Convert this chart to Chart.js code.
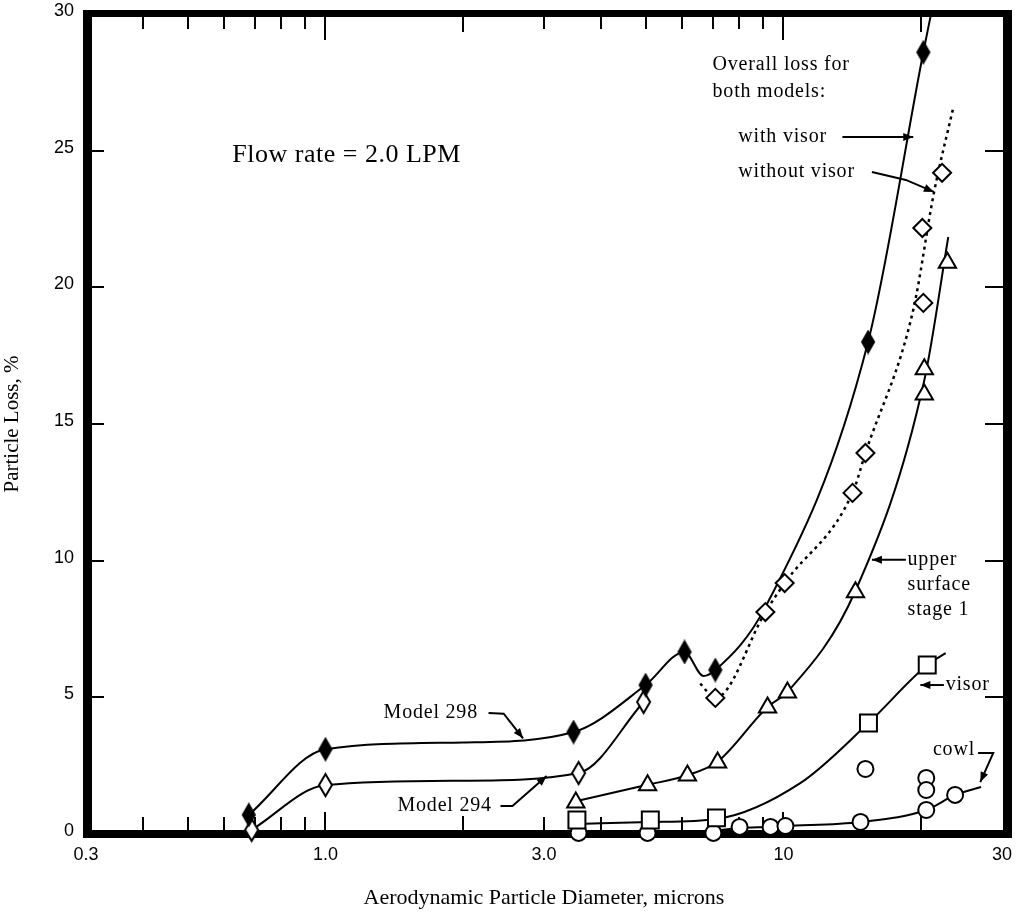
<!DOCTYPE html>
<html>
<head>
<meta charset="utf-8">
<title>Particle Loss vs Aerodynamic Particle Diameter</title>
<script src="https://cdn.jsdelivr.net/npm/chart.js@4.4.1/dist/chart.umd.min.js"></script>
<style>
    html, body { margin: 0; padding: 0; background: #fff; }
    #chart { display: block; }
</style>
</head>
<body>
<canvas id="chart" width="1022" height="914"></canvas>
<script>
// Values (x = particle diameter in microns, y = loss in %)

// Axis ticks
const xTickValues = [0.3, 1, 3, 10, 30];
const xTickLabels = ["0.3", "1.0", "3.0", "10", "30"];
const xMinorTicks = [0.4, 0.5, 0.6, 0.7, 0.8, 0.9, 3, 4, 5, 6, 7, 8, 9];
const xMidTicks = [2, 20];
const xMajorTicks = [1, 10];
const yTickMarks = [5, 10, 15, 20, 25];

// Model 298 / overall loss with visor (filled diamonds)
const withVisorX = [0.68, 1.0, 3.48, 5.0, 6.08, 7.1, 15.3, 20.2];
const withVisorY = [0.7, 3.1, 3.73, 5.45, 6.66, 6.0, 18.0, 28.6];
const withVisorFitX = [0.68, 1.0, 2.0, 3.48, 5.0, 6.08, 6.69, 7.1, 9.13, 15.3, 20.2, 21.0];
const withVisorFitY = [0.7, 3.1, 3.35, 3.73, 5.45, 6.66, 5.78, 6.0, 8.3, 18.0, 28.6, 30];

// Model 294 (open diamonds, lower curve on the left)
const model294X = [0.69, 1.0, 3.57, 4.95];
const model294Y = [0.15, 1.79, 2.23, 4.83];
const model294FitX = [0.69, 1.0, 2.0, 3.57, 4.95];
const model294FitY = [0.15, 1.79, 1.95, 2.23, 4.83];

// Overall loss without visor (open diamonds, dotted curve)
const withoutVisorX = [7.1, 9.13, 10.06, 14.15, 15.1, 20.2, 20.1, 22.2];
const withoutVisorY = [4.98, 8.12, 9.18, 12.48, 13.94, 19.43, 22.17, 24.19];
const withoutVisorFitX = [6.58, 7.1, 9.13, 10.06, 14.15, 15.1, 19.2, 21.3, 23.5];
const withoutVisorFitY = [5.5, 4.98, 8.12, 9.18, 12.48, 13.94, 19.17, 23.45, 26.6];

// Upper surface, stage 1 (triangles)
const stage1X = [3.52, 5.05, 6.17, 7.18, 9.23, 10.2, 14.36, 20.3, 20.3, 22.8];
const stage1Y = [1.15, 1.78, 2.14, 2.62, 4.63, 5.18, 8.84, 16.08, 17.0, 20.9];
const stage1FitX = [3.52, 5.05, 6.17, 7.18, 9.23, 10.2, 14.36, 20.3, 22.9];
const stage1FitY = [1.2, 1.8, 2.15, 2.65, 4.65, 5.2, 8.9, 16.6, 21.84];

// Visor (squares)
const visorX = [3.54, 5.12, 7.14, 15.33, 20.6];
const visorY = [0.51, 0.51, 0.59, 4.06, 6.18];
const visorFitX = [3.54, 5.12, 7.14, 10.9, 15.33, 20.6, 22.6];
const visorFitY = [0.37, 0.44, 0.55, 1.87, 4.06, 6.18, 6.62];

// Cowl (circles)
const cowlX = [3.57, 5.05, 7.03, 8.02, 9.37, 10.1, 14.73, 20.5, 23.7];
const cowlY = [0.04, 0.04, 0.04, 0.26, 0.26, 0.29, 0.44, 0.88, 1.43];
const cowlOffX = [15.1, 20.5, 20.5];
const cowlOffY = [2.38, 2.05, 1.61];
const cowlFitX = [3.57, 5.05, 7.03, 8.02, 9.37, 10.1, 14.73, 20.5, 23.7, 27.0];
const cowlFitY = [0.05, 0.08, 0.12, 0.22, 0.26, 0.29, 0.44, 0.88, 1.43, 1.72];

// Text notes and their arrows, placed in data units
const notes = [
    { text: "Flow rate = 2.0 LPM", x: 0.626, y: 24.84, size: 26 },
    { text: "Overall loss for", x: 7.0, y: 28.14 },
    { text: "both models:", x: 7.0, y: 27.15 },
    { text: "with visor", x: 7.97, y: 25.5 },
    { text: "without visor", x: 7.97, y: 24.22 },
    { text: "upper", x: 18.66, y: 10.03 },
    { text: "surface", x: 18.66, y: 9.11 },
    { text: "stage 1", x: 18.66, y: 8.2 },
    { text: "visor", x: 22.6, y: 5.45 },
    { text: "cowl", x: 21.2, y: 3.07 },
    { text: "Model 298", x: 1.339, y: 4.43 },
    { text: "Model 294", x: 1.436, y: 1.02 }
];
const arrows = [
    [[13.45, 25.5], [19.2, 25.5]],
    [[15.6, 24.22], [18.5, 23.93], [21.3, 23.49]],
    [[18.5, 10.03], [15.6, 10.03]],
    [[22.4, 5.45], [19.9, 5.45]],
    [[26.6, 2.96], [28.7, 2.96], [26.9, 1.9]],
    [[2.27, 4.43], [2.45, 4.4], [2.7, 3.5]],
    [[2.41, 1.02], [2.56, 1.02], [3.04, 2.12]]
];

const pts = (xs, ys) => xs.map((x, i) => ({ x: x, y: ys[i] }));

// Narrow diamond markers as small canvases
function makeDiamond(w, h, fill) {
    const c = document.createElement("canvas");
    c.width = w + 4;
    c.height = h + 4;
    const g = c.getContext("2d");
    g.beginPath();
    g.moveTo(c.width / 2, 2);
    g.lineTo(c.width - 2, c.height / 2);
    g.lineTo(c.width / 2, c.height - 2);
    g.lineTo(2, c.height / 2);
    g.closePath();
    g.fillStyle = fill;
    g.fill();
    g.lineWidth = 2;
    g.strokeStyle = "#000";
    g.stroke();
    return c;
}
const filledDiamond = makeDiamond(12, 21, "#000");
const openDiamond = makeDiamond(13, 22, "#fff");

function fitLine(xs, ys, dashed) {
    return {
        data: pts(xs, ys),
        showLine: true,
        borderColor: "#000",
        borderWidth: dashed ? 2.5 : 2,
        borderDash: dashed ? [3, 4] : [],
        pointRadius: 0,
        cubicInterpolationMode: "monotone",
        fill: false,
        order: 2
    };
}

function markers(xs, ys, style, radius, fill) {
    return {
        data: pts(xs, ys),
        showLine: false,
        pointStyle: style,
        pointRadius: radius,
        pointBackgroundColor: fill,
        pointBorderColor: "#000",
        pointBorderWidth: 2,
        clip: false,
        order: 1
    };
}

// Frame and inward tick marks, drawn before the data
const framePlugin = {
    id: "frame",
    beforeDatasetsDraw(chart) {
        const { ctx, chartArea: a, scales } = chart;
        const L = a.left, R = a.right, T = a.top, B = a.bottom;
        ctx.save();
        ctx.fillStyle = "#000";
        ctx.fillRect(L - 3, T - 4, R + 10 - (L - 3), 7);
        ctx.fillRect(L - 3, B - 4, R + 10 - (L - 3), 8);
        ctx.fillRect(L - 3, T - 4, 9, B + 4 - (T - 4));
        ctx.fillRect(R + 1, T - 4, 9, B + 4 - (T - 4));

        ctx.strokeStyle = "#000";
        ctx.lineWidth = 2;
        const xTick = (v, topLen, botLen) => {
            const px = Math.round(scales.x.getPixelForValue(v));
            ctx.beginPath();
            ctx.moveTo(px, T + 3);
            ctx.lineTo(px, T + 3 + topLen);
            ctx.moveTo(px, B - 4);
            ctx.lineTo(px, B - 4 - botLen);
            ctx.stroke();
        };
        xMinorTicks.forEach(v => xTick(v, 12, 13));
        xMidTicks.forEach(v => xTick(v, 15, 14));
        xMajorTicks.forEach(v => xTick(v, 23, 18));

        yTickMarks.forEach(v => {
            const py = Math.round(scales.y.getPixelForValue(v));
            ctx.beginPath();
            ctx.moveTo(L + 6, py);
            ctx.lineTo(L + 18, py);
            ctx.moveTo(R + 1, py);
            ctx.lineTo(R - 17, py);
            ctx.stroke();
        });
        ctx.restore();
    }
};

// Labels with pointer arrows
const notesPlugin = {
    id: "notes",
    afterDatasetsDraw(chart) {
        const { ctx, scales } = chart;
        const px = v => scales.x.getPixelForValue(v);
        const py = v => scales.y.getPixelForValue(v);
        ctx.save();
        ctx.fillStyle = "#000";
        ctx.strokeStyle = "#000";
        ctx.textBaseline = "middle";
        ctx.textAlign = "left";
        notes.forEach(n => {
            const size = n.size || 20;
            ctx.font = size + "px 'Liberation Serif', serif";
            if ("letterSpacing" in ctx) ctx.letterSpacing = n.size ? "0.5px" : "0.8px";
            ctx.fillText(n.text, px(n.x), py(n.y));
        });

        ctx.lineWidth = 2;
        arrows.forEach(path => {
            const p = path.map(([x, y]) => [px(x), py(y)]);
            ctx.beginPath();
            ctx.moveTo(p[0][0], p[0][1]);
            for (let i = 1; i < p.length; i++) ctx.lineTo(p[i][0], p[i][1]);
            ctx.stroke();
            const [x1, y1] = p[p.length - 2];
            const [x2, y2] = p[p.length - 1];
            const ang = Math.atan2(y2 - y1, x2 - x1);
            ctx.beginPath();
            ctx.moveTo(x2, y2);
            ctx.lineTo(x2 - 10 * Math.cos(ang) + 4 * Math.sin(ang), y2 - 10 * Math.sin(ang) - 4 * Math.cos(ang));
            ctx.lineTo(x2 - 10 * Math.cos(ang) - 4 * Math.sin(ang), y2 - 10 * Math.sin(ang) + 4 * Math.cos(ang));
            ctx.closePath();
            ctx.fill();
        });
        ctx.restore();
    }
};

const tickFont = { family: "'Liberation Sans', sans-serif", size: 18 };

new Chart(document.getElementById("chart").getContext("2d"), {
    type: "scatter",
    data: {
        datasets: [
            fitLine(withVisorFitX, withVisorFitY, false),
            fitLine(model294FitX, model294FitY, false),
            fitLine(withoutVisorFitX, withoutVisorFitY, true),
            fitLine(stage1FitX, stage1FitY, false),
            fitLine(visorFitX, visorFitY, false),
            fitLine(cowlFitX, cowlFitY, false),
            markers(withVisorX, withVisorY, filledDiamond, 8, "#000"),
            markers(model294X, model294Y, openDiamond, 8, "#fff"),
            markers(withoutVisorX, withoutVisorY, "rectRot", 9, "#fff"),
            markers(stage1X, stage1Y, "triangle", 10, "#fff"),
            markers(visorX, visorY, "rect", 12, "#fff"),
            markers(cowlX, cowlY, "circle", 8, "#fff"),
            markers(cowlOffX, cowlOffY, "circle", 8, "#fff")
        ]
    },
    options: {
        responsive: false,
        animation: false,
        devicePixelRatio: 1,
        layout: { padding: { top: 14, right: 20, bottom: 0, left: 0 } },
        plugins: {
            legend: { display: false },
            tooltip: { enabled: false }
        },
        scales: {
            x: {
                type: "logarithmic",
                min: 0.3,
                max: 30,
                grid: { display: false, drawTicks: false },
                border: { display: false },
                afterBuildTicks: s => { s.ticks = xTickValues.map(v => ({ value: v })); },
                afterFit: s => { s.height = 80; s.paddingLeft = 0; s.paddingRight = 0; },
                ticks: {
                    autoSkip: false,
                    maxRotation: 0,
                    padding: 10,
                    color: "#000",
                    font: tickFont,
                    callback: (v, i) => xTickLabels[i]
                },
                title: {
                    display: true,
                    text: "Aerodynamic Particle Diameter, microns",
                    color: "#000",
                    font: { family: "'Liberation Serif', serif", size: 22 },
                    padding: { top: 0, bottom: 3 }
                }
            },
            y: {
                min: 0,
                max: 30,
                grid: { display: false, drawTicks: false },
                border: { display: false },
                afterFit: s => { s.width = 86; s.paddingTop = 0; s.paddingBottom = 0; },
                ticks: {
                    stepSize: 5,
                    padding: 12,
                    labelOffset: -3,
                    color: "#000",
                    font: tickFont
                },
                title: {
                    display: true,
                    text: "Particle Loss, %",
                    color: "#000",
                    font: { family: "'Liberation Serif', serif", size: 21 },
                    padding: { top: 0, bottom: 0 }
                }
            }
        }
    },
    plugins: [framePlugin, notesPlugin]
});
</script>
</body>
</html>
